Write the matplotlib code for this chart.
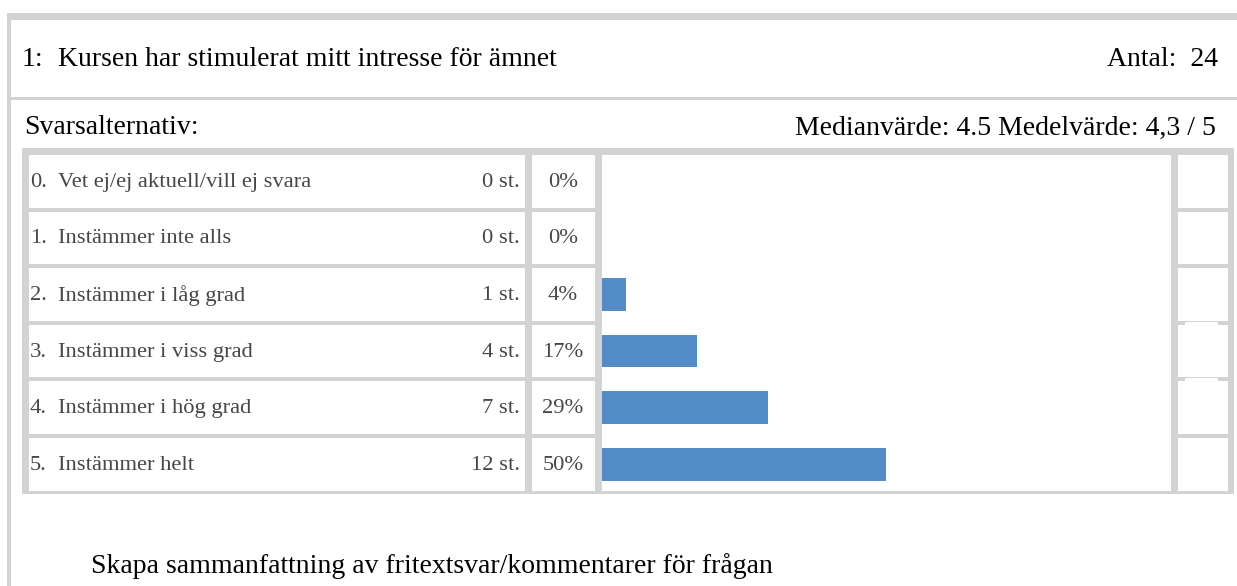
import matplotlib
matplotlib.use("Agg")
import matplotlib.pyplot as plt
from matplotlib.patches import Rectangle

# survey data
question = "Kursen har stimulerat mitt intresse för ämnet"
antal = 24
nums = ["0.", "1.", "2.", "3.", "4.", "5."]
labels = ["Vet ej/ej aktuell/vill ej svara", "Instämmer inte alls", "Instämmer i låg grad",
          "Instämmer i viss grad", "Instämmer i hög grad", "Instämmer helt"]
counts = [0, 0, 1, 4, 7, 12]
pcts = [0, 0, 4, 17, 29, 50]
stats_text = "Medianvärde: 4.5 Medelvärde: 4,3 / 5"

W, H = 1237, 586
gray = "#d3d3d3"
blue = "#528bc5"
txt = "#474747"
big = 20
small = 16.2
plt.rcParams['font.family'] = ['Liberation Serif', 'DejaVu Serif']

fig = plt.figure(figsize=(W / 100, H / 100), dpi=100)
ax = fig.add_axes([0, 0, 1, 1])
ax.set_xlim(0, W)
ax.set_ylim(H, 0)
ax.axis("off")

def box(x0, y0, x1, y1, c):
    ax.add_patch(Rectangle((x0, y0), x1 - x0, y1 - y0, facecolor=c, edgecolor="none", lw=0))

# outer frame
box(7, 13, W, 20, gray)
box(7, 13, 10.5, H, gray)
box(10.5, 96.5, W, 99.5, gray)

# header texts
ax.text(22, 59, "1:", fontsize=big, va="center", ha="left", color="black")
ax.text(58, 59, question, fontsize=big, va="center", ha="left", color="black")
ax.text(1218, 59, "Antal:  " + str(antal), fontsize=big, va="center", ha="right", color="black")
ax.text(24, 128, "Svarsalternativ:", fontsize=big, va="center", ha="left", color="black")
ax.text(1216, 128, stats_text, fontsize=big, va="center", ha="right", color="black")

# table
box(22, 148, 1234, 494, gray)
pitch = 56.6
rh = 52.5
top0 = 155
cols = [(28.5, 525), (531.5, 595), (1177.8, 1228)]
for i in range(len(labels)):
    y0 = top0 + i * pitch
    for (x0, x1) in cols:
        box(x0, y0, x1, y0 + rh, "white")
    yc = y0 + rh / 2 + 1
    ax.text(30, yc, nums[i], fontsize=small, va="center", ha="left", color=txt)
    ax.text(58, yc, labels[i], fontsize=small, va="center", ha="left", color=txt)
    ax.text(520, yc, str(counts[i]) + " st.", fontsize=small, va="center", ha="right", color=txt)
    ax.text(563, yc, str(pcts[i]) + "%", fontsize=small, va="center", ha="center", color=txt)
box(601.8, top0, 1170.7, top0 + 5 * pitch + rh, "white")
# small white notches in last column
for i in (3, 4):
    y0 = top0 + i * pitch
    box(1185, y0 - 3, 1218, y0, "white")

ax.text(91, 566, "Skapa sammanfattning av fritextsvar/kommentarer för frågan",
        fontsize=big, va="center", ha="left", color="black")

# bars
bx0, bx1 = 601.8, 1170.7
by0 = top0 - (pitch - rh) / 2
by1 = by0 + 6 * pitch
bax = fig.add_axes([bx0 / W, 1 - by1 / H, (bx1 - bx0) / W, (by1 - by0) / H])
bax.patch.set_alpha(0)
bax.barh(range(len(pcts)), [c / antal * 100 for c in counts], height=0.58, color=blue, left=0)
bax.set_xlim(0, 100)
bax.set_ylim(len(pcts) - 0.5, -0.5)
bax.axis("off")

fig.savefig("out.png", dpi=100)
